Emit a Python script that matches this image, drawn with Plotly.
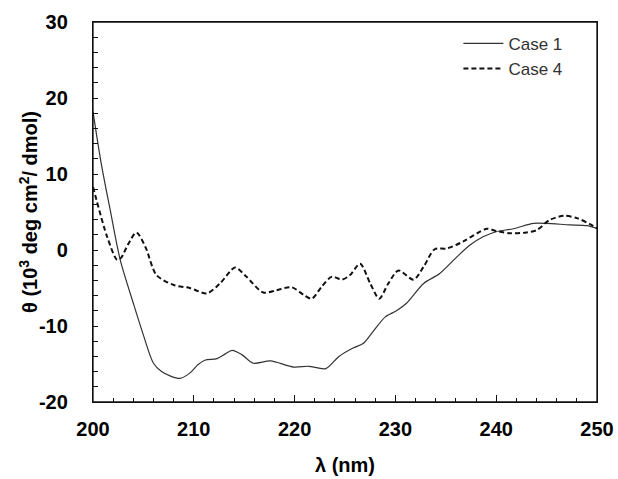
import plotly.graph_objects as go

wl_case1 = [200, 200.8, 201.7, 202.7, 204, 205, 206, 206.8, 207.7, 208.6, 209.6, 210.4, 211.1, 212.3, 213.1,
            213.8, 214.8, 215.9, 217.6, 219.9, 221.4, 223.1, 224.4, 225.8, 226.8, 227.8, 229.0, 230.1, 231.1,
            232.8, 234.4, 236.1, 237.4, 238.7, 240.0, 241.7, 243.7, 245.0, 247.3, 249.0, 250]
case1 = [18.2, 11.5, 5.3, -1.3, -7.0, -11.2, -14.9, -16.0, -16.6, -16.9, -16.2, -15.1, -14.5, -14.3, -13.7,
         -13.2, -13.8, -14.9, -14.6, -15.4, -15.3, -15.6, -14.0, -12.9, -12.3, -10.7, -8.8, -8.0, -7.0,
         -4.4, -3.1, -0.9, 0.66, 1.75, 2.4, 2.8, 3.5, 3.5, 3.3, 3.2, 2.85]

wl_case4 = [200, 201.4, 202.4, 202.8, 203.5, 204.3, 205.2, 206.3, 208.0, 209.6, 211.3, 212.6, 214.1, 215.2,
            216.9, 218.2, 219.7, 220.9, 221.7, 222.7, 223.7, 224.7, 225.5, 226.5, 227.5, 228.4, 229.3, 230.3,
            231.8, 232.8, 233.9, 235.1, 236.7, 238.1, 239.1, 240.0, 241.4, 243.0, 244.0, 245.3, 246.7, 248.0,
            249.3, 250]
case4 = [8.3, 1.75, -1.3, -1.0, 0.8, 2.3, 0.4, -3.3, -4.6, -5.0, -5.7, -4.4, -2.3, -3.5,
         -5.6, -5.3, -4.9, -5.9, -6.4, -4.8, -3.5, -3.9, -3.3, -1.8, -4.4, -6.4, -4.4, -2.7,
         -3.9, -2.2, 0.1, 0.2, 1.1, 2.2, 2.8, 2.5, 2.2, 2.3, 2.6, 3.95, 4.5, 4.2,
         3.4, 2.85]

x_ticks = [200, 210, 220, 230, 240, 250]
y_ticks = [-20, -10, 0, 10, 20, 30]
y_ticktext = ["-20", "-10", "0", "10", "20", "30"]

FONT = "Liberation Sans, Arial, sans-serif"

fig = go.Figure()
fig.add_trace(go.Scatter(x=wl_case1, y=case1, mode="lines", name="Case 1", cliponaxis=True,
                         line=dict(color="#333333", width=1.2, shape="spline", smoothing=0.8)))
fig.add_trace(go.Scatter(x=wl_case4, y=case4, mode="lines", name="Case 4", cliponaxis=True,
                         line=dict(color="#111111", width=2, dash="5px,3px", shape="spline", smoothing=0.8)))

fig.update_layout(
    template="none",
    width=618, height=479,
    margin=dict(l=93, r=21, t=22, b=77, autoexpand=False),
    plot_bgcolor="white", paper_bgcolor="white",
    font=dict(family=FONT, color="black"),
    showlegend=True,
    legend=dict(x=0.725, y=0.99, xanchor="left", yanchor="top",
                font=dict(family=FONT, size=17, color="#333333"),
                bgcolor="rgba(0,0,0,0)", tracegroupgap=0, itemwidth=40),
    xaxis=dict(range=[200, 250], tickvals=x_ticks, ticks="inside", ticklen=7, tickwidth=1,
               tickcolor="#111", showline=True, linecolor="#111", linewidth=1.3, mirror=True,
               showgrid=False, zeroline=False, automargin=False,
               tickfont=dict(family=FONT, size=20, color="black", weight="bold"),
               ticklabelstandoff=9,
               minor=dict(dtick=2, ticks="inside", ticklen=4, tickcolor="#111", showgrid=False),
               title=dict(text="λ (nm)", font=dict(family=FONT, size=20, color="black", weight="bold"),
                          standoff=18)),
    yaxis=dict(range=[-20, 30], tickvals=y_ticks, ticktext=y_ticktext, ticks="inside", ticklen=5,
               tickwidth=1, tickcolor="#111", showline=True, linecolor="#111", linewidth=1.3, mirror=True,
               showgrid=False, zeroline=False, automargin=False,
               tickfont=dict(family=FONT, size=20, color="black", weight="bold"),
               ticklabelstandoff=20,
               minor=dict(dtick=2, ticks="inside", ticklen=5, tickcolor="#111", showgrid=False)),
    shapes=[dict(type="rect", xref="paper", yref="paper", x0=0, y0=0, x1=1, y1=1,
                 line=dict(color="#111", width=1.3), fillcolor="rgba(0,0,0,0)", layer="above")],
    annotations=[dict(text="θ (10<sup>3</sup> deg cm<sup>2</sup>/ dmol)", textangle=-90,
                      xref="paper", yref="paper", x=-0.129, y=0.5, xanchor="center", yanchor="middle",
                      showarrow=False,
                      font=dict(family=FONT, size=20, color="black", weight="bold"))],
)

fig.write_html("out.html")
